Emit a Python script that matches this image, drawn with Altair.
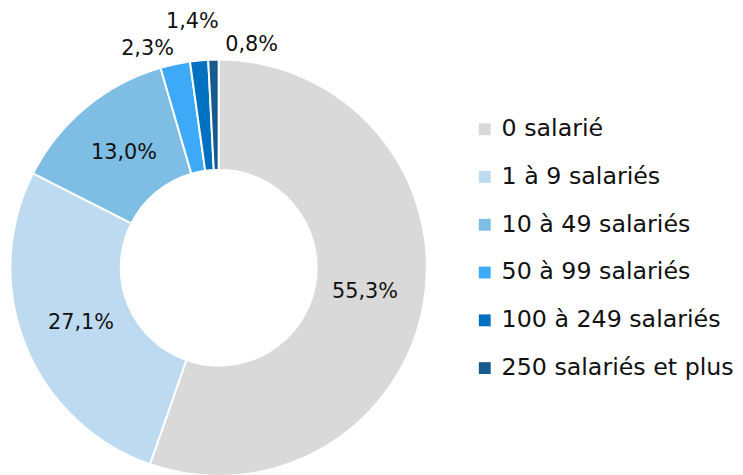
import altair as alt
import pandas as pd

categories = ["0 salarié", "1 à 9 salariés", "10 à 49 salariés", "50 à 99 salariés",
              "100 à 249 salariés", "250 salariés et plus"]
values = [55.3, 27.1, 13.0, 2.3, 1.4, 0.8]
labels = ["55,3%", "27,1%", "13,0%", "2,3%", "1,4%", "0,8%"]
colors = ["#D9D9D9", "#BDDAF0", "#7FBEE4", "#3DA9F7", "#0070C0", "#175A8E"]

df = pd.DataFrame({"cat": categories, "val": values, "lab": labels,
                   "order": list(range(len(categories)))})

FONT = "DejaVu Sans"
CX, CY = 213, 260
TXT = "#111111"

color = alt.Color("cat:N", scale=alt.Scale(domain=categories, range=colors),
                  sort=categories,
                  legend=alt.Legend(title=None, orient="none", legendX=470, legendY=108,
                                    symbolType="square", symbolSize=144,
                                    symbolStrokeWidth=0,
                                    labelFont=FONT, labelFontSize=24, labelColor=TXT,
                                    rowPadding=24.3, labelOffset=5, labelLimit=400))

arc = alt.Chart(df).mark_arc(innerRadius=99, outerRadius=210.5, stroke="white",
                             strokeWidth=2).encode(
    theta=alt.Theta("val:Q", stack=True), order=alt.Order("order:Q"),
    color=color, x=alt.value(CX), y=alt.value(CY))

# label positions: mid-angle of each slice, computed from the data
lab_base = alt.Chart(df).transform_window(
    cum="sum(val)", sort=[alt.SortField("order")], frame=[None, 0]
).transform_joinaggregate(total="sum(val)").transform_calculate(
    frac="(datum.cum - datum.val / 2) / datum.total")

theta_mid = alt.Theta("frac:Q", scale=alt.Scale(domain=[0, 1]), stack=None)

txt_in = lab_base.transform_filter(alt.datum.val > 5).mark_text(
    radius=150, font=FONT, fontSize=21, color=TXT).encode(
    theta=theta_mid, text="lab:N", x=alt.value(CX), y=alt.value(CY))

def outer(lab, r, dx, dy):
    return lab_base.transform_filter(alt.datum.lab == lab).mark_text(
        radius=r, dx=dx, dy=dy, font=FONT, fontSize=21, color=TXT).encode(
        theta=theta_mid, text="lab:N", x=alt.value(CX), y=alt.value(CY))

chart = alt.layer(
    arc, txt_in,
    outer("2,3%", 234, -23, 8),
    outer("1,4%", 251, -3, 2),
    outer("0,8%", 226, 39, 1),
).resolve_scale(theta="independent").properties(
    width=735, height=467, padding=0,
    autosize=alt.AutoSizeParams(type="none")).configure_view(stroke=None)

chart.save("out.html", embed_options={"renderer": "svg", "actions": False})
